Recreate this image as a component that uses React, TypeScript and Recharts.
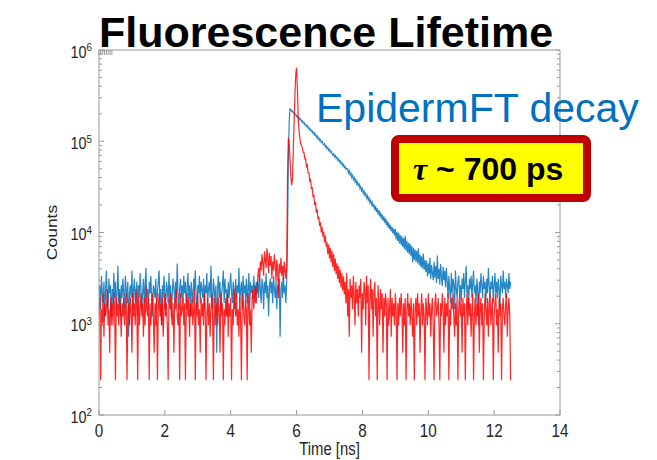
import React from 'react';
import { LineChart, Line, XAxis, YAxis } from 'recharts';

// sampling step of the decay histogram
const TIME_STEP_NS = 0.025;

// blue trace (EpidermFT), counts per bin
const BLUE_BASELINE = [ // 0.000 - 4.775 ns
  1920, 2640, 1440, 3360, 2160, 1680, 2880, 1200, 2400, 3840, 1920, 1440, 3120, 2160, 2640, 960,
  2400, 1680, 3600, 1920, 2880, 1440, 2160, 4320, 1680, 2400, 1200, 2640, 1920, 3120, 2160, 1440,
  3360, 2400, 1680, 2880, 720, 2160, 2640, 1920, 3840, 1440, 2400, 3120, 1680, 2160, 2880, 1200,
  2640, 1920, 3600, 2400, 1440, 2160, 3120, 1680, 2640, 4080, 1920, 2400, 1440, 2880, 2160, 3360,
  1680, 1200, 2640, 2400, 1920, 3120, 1440, 2160, 2880, 3840, 1680, 2400, 960, 2640, 1920, 3360,
  2160, 1440, 2880, 2400, 1680, 3600, 1920, 2640, 1200, 2160, 3120, 2400, 1680, 2880, 1920, 4560,
  2160, 1440, 2400, 3120, 1920, 2640, 1680, 3360, 2160, 2880, 1440, 2400, 3600, 1920, 2640, 1200,
  2880, 2160, 1680, 3120, 2400, 3840, 1920, 1440, 2640, 2160, 3360, 1680, 2880, 2400, 1920, 3120,
  1440, 2640, 2160, 3600, 1680, 2400, 2880, 1920, 4320, 2160, 1440, 3120, 2400, 1680, 2640, 480,
  2400, 3360, 1920, 2880, 1440, 2160, 2640, 3840, 1680, 3120, 2160, 2400, 1200, 2880, 1920, 2640,
  3600, 2160, 1680, 2880, 2400, 1440, 3120, 1920, 2640, 2160, 4080, 1680, 2400, 2880, 1440, 3360,
  2160, 2640, 1920, 3120, 1680, 2400, 3600, 1440, 2880, 2160, 2640, 1920, 3360, 2400, 1680, 2880,
];
const BLUE_BUMP = [ // 4.800 - 5.700 ns
  2160, 2880, 1920, 3360, 2400, 1680, 3120, 2640, 1440, 2880,
  2160, 3600, 1920, 2640, 1200, 2400, 3120, 2160, 2880, 1680,
  3360, 2400, 1920, 2880, 1440, 2640, 2160, 3120, 720, 2400,
  2880, 1920, 3360, 2160, 2640, 1680, 2880,
];
const BLUE_DECAY = [ // 5.725 - 10.550 ns
  9000, 60000, 165000, 226000,
  223000, 213000, 215000, 204000, 206000, 195000, 198000, 187000, 190000, 179000,
  182000, 172000, 175000, 165000, 168000, 158000, 161000, 152000, 154000, 145000,
  148000, 139000, 142000, 133000, 136000, 128000, 130000, 122000,
  125500, 116500, 119500, 111000, 114500, 106000, 109500, 101500, 104500, 97000,
  99800, 94500, 91600, 93800, 86500, 89000, 83000, 85200, 79000, 81700,
  76000, 78000, 73600, 70500, 72900, 67500, 69800, 65000, 66800, 62000,
  63900, 59500, 61200, 56500, 58200, 54000, 55600, 51700, 53200, 49300,
  50500,
  50200, 45300, 47600, 42600, 44800, 40100, 42300, 38000, 39800, 36000,
  37900, 34000, 35700, 32100, 34500, 30300, 31900, 28700, 30100, 27000,
  28400, 25600, 26900, 24000, 25300, 22700, 24000, 21400, 22600, 20200,
  21300, 19000,
  20400, 17600, 19500, 16800, 18400, 15800, 17600, 15000, 16600, 14200,
  15800, 13500, 15000, 12800, 14300, 12100, 13500, 11400, 12800, 10900,
  12100, 10300, 11500, 9800, 11000, 9300,
  10900, 8400, 10200, 8100, 9900, 7600, 9400, 7300, 9100, 6900,
  8700, 6600, 9200, 6300, 8100, 6000, 7700, 5800, 7500, 5500,
  7100, 4700, 6800, 5000, 6500, 4800, 6300, 4600, 6700, 4400,
  5700, 4200, 5500, 4000, 5900, 3900, 5000, 3700,
  4900, 3300, 4600, 3500, 5300, 3100, 4400, 3600, 3000, 4800,
  3200, 4300, 2800, 5600, 3100, 4000, 2700, 4500, 3300, 2600,
  4200, 3000, 3800, 2500, 4100,
];
const BLUE_TAIL = [ // 10.575 - 12.500 ns
  2880, 1920, 3360, 2400, 1680, 3600, 2160, 3120, 2640, 1440, 3840, 2400, 1920, 2880, 3360, 2160,
  2640, 1680, 3120, 2400, 3600, 1920, 2880, 4320, 2160, 2640, 1440, 3120, 2400, 3360, 1920, 2880,
  3840, 2160, 2640, 1680, 3120, 2400, 960, 2880, 2160, 3600, 2640, 1920, 3360, 2400, 2880, 1680,
  3120, 2160, 4080, 2640, 1920, 2880, 2400, 3360, 1680, 2640, 3600, 2160, 2880, 1920, 3120, 2400,
  1440, 3360, 2640, 2160, 3840, 2400, 2880, 1920, 3120, 2640, 2160, 3600, 2400, 2880,
];

// red trace (reference / IRF), counts per bin
const RED_BASELINE = [ // 0.000 - 4.775 ns
  1200, 1920, 240, 1440, 960, 2160, 720, 1680, 1200, 1440, 2400, 960, 1440, 480, 1920, 1200,
  1680, 960, 2160, 1440, 240, 1920, 1200, 1680, 960, 2160, 1440, 720, 1680, 1200, 1920, 960,
  1440, 2160, 240, 1200, 1680, 960, 1920, 1440, 480, 2160, 1200, 1680, 960, 2400, 1440, 240,
  1920, 960, 1440, 2160, 1200, 1680, 720, 1920, 960, 2640, 1440, 1200, 1920, 240, 1680, 960,
  1440, 2160, 1200, 480, 1680, 960, 1920, 240, 1440, 2160, 1200, 1680, 960, 1920, 720, 1440,
  2160, 1200, 1680, 960, 240, 1920, 1440, 2160, 1200, 960, 1680, 480, 1920, 1440, 2400, 1200,
  960, 1680, 240, 2160, 1200, 1440, 1920, 960, 1680, 240, 1440, 2160, 1200, 1920, 720, 1680,
  1200, 1920, 960, 1440, 2400, 240, 1680, 1200, 2160, 960, 1440, 480, 1920, 1200, 1680, 960,
  2160, 1440, 240, 1200, 1920, 960, 1680, 720, 1440, 2160, 1200, 240, 1920, 960, 1680, 1440,
  960, 1920, 1440, 480, 2160, 1200, 1680, 240, 1440, 960, 1920, 1200, 2160, 720, 1680, 1200,
  1920, 240, 1440, 960, 2400, 1680, 1200, 2160, 960, 1440, 720, 1920, 1200, 240, 1680, 2160,
  1200, 960, 1920, 1440, 240, 2160, 1680, 960, 1440, 480, 1920, 2400, 1440, 2160, 2640, 1680,
];
const RED_BUMP = [ // 4.800 - 5.700 ns
  2400, 3360, 4080, 2880, 4800, 3840, 5760, 4560, 3360, 6240,
  5040, 4080, 6720, 5280, 3600, 6000, 4320, 5520, 3120, 4800,
  3840, 5760, 4560, 2880, 5040, 4080, 1920, 4560, 3600, 5280,
  3360, 4320, 2880, 4800, 3840, 3120, 4320,
];
const RED_DECAY = [ // 5.725 - 7.450 ns
  40000, 110000, 95000, 65000, 42000, 33000, 38000, 80000, 160000, 320000,
  540000, 640000, 380000, 180000, 130000, 108000, 95000, 90000,
  84000, 76000, 75000, 64000, 64000, 53000, 55000, 45000, 45000, 37000,
  38000, 30000, 31500, 24500, 26000, 20000, 21500, 16500, 18000, 14000,
  15000, 11800, 13000, 10000, 11500, 9000, 10200, 7800, 9200, 7000,
  7800, 5800, 7400, 5200, 6800, 4700, 6300, 4200, 5800, 3800,
  5200, 3500, 4600, 3100, 4300, 2800, 3900, 2500, 3600, 2300,
  3300, 2100,
];
const RED_TAIL = [ // 7.475 - 12.500 ns
  2880, 1680, 3600, 1200, 2400, 720, 3120, 1920, 2640, 1440, 3360, 2160, 960, 2880, 1680, 2400,
  1200, 2640, 1920, 3120, 480, 2160, 1440, 2880, 2400, 960, 3360, 1680, 2640, 240, 1920, 3120,
  1440, 2400, 720, 2160, 2880, 1200, 1920, 240, 2640, 1680, 960, 2400, 1440, 2160, 480, 1920,
  1200, 2160, 1680, 240, 1920, 960, 1440, 2400, 720, 1920, 1200, 1680, 960, 2160, 1440, 240,
  1680, 960, 1920, 1200, 2160, 1440, 480, 1680, 960, 1920, 240, 1440, 2160, 1200, 1680, 960,
  1920, 1200, 720, 1680, 240, 1440, 1920, 960, 2160, 1200, 1680, 480, 1440, 2160, 960, 1680,
  1200, 240, 1920, 1440, 960, 2160, 1200, 1680, 720, 1440, 1920, 960, 240, 1680, 2160, 1200,
  1440, 1920, 960, 240, 1680, 1200, 2160, 1440, 480, 1920, 960, 1680, 1200, 2160, 240, 1440,
  960, 1920, 1440, 2160, 1200, 720, 1680, 960, 1920, 240, 1440, 2160, 1200, 1680, 480, 1920,
  1200, 1680, 240, 1440, 2160, 960, 1920, 1200, 1680, 720, 1440, 2160, 240, 1200, 1920, 960,
  1680, 1200, 2160, 480, 1440, 1920, 960, 1680, 240, 1200, 2160, 1440, 960, 1920, 720, 1680,
  2160, 960, 1440, 1920, 240, 1200, 1680, 2160, 960, 1440, 480, 1920, 1200, 1680, 240, 1440,
  1920, 1200, 960, 1680, 2160, 720, 1440, 1920, 1200, 240,
];

const X_TICKS = [0, 2, 4, 6, 8, 10, 12, 14];
const Y_DECADES = [1e2, 1e3, 1e4, 1e5, 1e6];
const Y_MINOR = [2, 3, 4, 5, 6, 7, 8, 9];

const blueCounts = [...BLUE_BASELINE, ...BLUE_BUMP, ...BLUE_DECAY, ...BLUE_TAIL];
const redCounts = [...RED_BASELINE, ...RED_BUMP, ...RED_DECAY, ...RED_TAIL];

const data = blueCounts.map((blue, i) => ({
  t: +(i * TIME_STEP_NS).toFixed(3),
  blue,
  red: redCounts[i],
}));

const yTicks = Y_DECADES.flatMap((d, i) =>
  i < Y_DECADES.length - 1 ? [d, ...Y_MINOR.map((m) => m * d)] : [d]
);

const AXIS = '#9a9a9a';
const INK = '#262626';
const FONT = '"Liberation Sans", Arial, Helvetica, sans-serif';
const GAP = 8; // tickMargin, used to find the axis line back from the tick position
const SQUEEZE = 0.85;

const isDecade = (v: number) => Y_DECADES.includes(v);

const LeftTick = ({ x, y, payload }: any) => {
  const ax = x + GAP;
  const major = isDecade(payload.value);
  return (
    <g>
      <line x1={ax} x2={ax + (major ? 5 : 3)} y1={y} y2={y} stroke={AXIS} />
      {major && (
        <g transform={`translate(${ax - 7},${y}) scale(${SQUEEZE},1)`}>
          <text x={0} y={0} textAnchor="end" fill={INK} fontFamily={FONT} fontSize={17}>
            <tspan dy={7.6}>10</tspan>
            <tspan dy={-6.3} fontSize={11.5}>{Math.round(Math.log10(payload.value))}</tspan>
          </text>
        </g>
      )}
    </g>
  );
};

const RightTick = ({ x, y, payload }: any) => {
  const ax = x - GAP;
  const major = isDecade(payload.value);
  return <line x1={ax} x2={ax - (major ? 5 : 3)} y1={y} y2={y} stroke={AXIS} />;
};

const BottomTick = ({ x, y, payload }: any) => {
  const ay = y - GAP;
  return (
    <g>
      <line x1={x} x2={x} y1={ay} y2={ay - 5} stroke={AXIS} />
      <g transform={`translate(${x},${ay + 22}) scale(${SQUEEZE},1)`}>
        <text x={0} y={0} textAnchor="middle" fill={INK} fontFamily={FONT} fontSize={18}>
          {payload.value}
        </text>
      </g>
    </g>
  );
};

const TopTick = ({ x, y }: any) => {
  const ay = y + GAP;
  return <line x1={x} x2={x} y1={ay} y2={ay + 5} stroke={AXIS} />;
};

const XTitle = ({ viewBox }: any) => (
  <g transform={`translate(${viewBox.x + viewBox.width / 2},${viewBox.y + 40}) scale(${SQUEEZE},1)`}>
    <text x={0} y={0} textAnchor="middle" fill={INK} fontFamily={FONT} fontSize={17.5}>
      Time [ns]
    </text>
  </g>
);

const YTitle = ({ viewBox }: any) => (
  <g transform={`translate(${viewBox.x + 18},${viewBox.y + viewBox.height / 2}) rotate(-90) scale(1,${SQUEEZE})`}>
    <text x={0} y={0} textAnchor="middle" fill={INK} fontFamily={FONT} fontSize={17.5}>
      Counts
    </text>
  </g>
);

export default function App() {
  return (
    <div style={{ position: 'absolute', left: 0, top: 0, width: 657, height: 460, background: '#fff' }}>
      <LineChart
        width={657}
        height={460}
        data={data}
        margin={{ top: 45, right: 87, bottom: 15, left: 39 }}
      >
        <XAxis
          xAxisId="bottom"
          type="number"
          dataKey="t"
          domain={[0, 14]}
          ticks={X_TICKS}
          interval={0}
          allowDataOverflow
          height={30}
          tickSize={0}
          tickMargin={GAP}
          tickLine={false}
          axisLine={{ stroke: AXIS }}
          tick={(p: any) => <BottomTick {...p} />}
          label={<XTitle />}
        />
        <XAxis
          xAxisId="top"
          orientation="top"
          type="number"
          domain={[0, 14]}
          ticks={X_TICKS}
          interval={0}
          allowDataOverflow
          height={5}
          tickSize={0}
          tickMargin={GAP}
          tickLine={false}
          axisLine={{ stroke: AXIS }}
          tick={(p: any) => <TopTick {...p} />}
        />
        <YAxis
          yAxisId="left"
          scale="log"
          type="number"
          domain={[100, 1e6]}
          ticks={yTicks}
          interval={0}
          allowDataOverflow
          width={60}
          tickSize={0}
          tickMargin={GAP}
          tickLine={false}
          axisLine={{ stroke: AXIS }}
          tick={(p: any) => <LeftTick {...p} />}
          label={<YTitle />}
        />
        <YAxis
          yAxisId="right"
          orientation="right"
          scale="log"
          type="number"
          domain={[100, 1e6]}
          ticks={yTicks}
          interval={0}
          allowDataOverflow
          width={10}
          tickSize={0}
          tickMargin={GAP}
          tickLine={false}
          axisLine={{ stroke: AXIS }}
          tick={(p: any) => <RightTick {...p} />}
        />
        <Line
          xAxisId="bottom"
          yAxisId="left"
          type="linear"
          dataKey="blue"
          stroke="#0072BD"
          strokeWidth={1.2}
          strokeOpacity={0.85}
          dot={false}
          isAnimationActive={false}
        />
        <Line
          xAxisId="bottom"
          yAxisId="left"
          type="linear"
          dataKey="red"
          stroke="#FF0000"
          strokeWidth={1.2}
          strokeOpacity={0.85}
          dot={false}
          isAnimationActive={false}
        />
      </LineChart>
      <svg
        width={657}
        height={460}
        style={{ position: 'absolute', left: 0, top: 0, pointerEvents: 'none' }}
      >
        <text x={99} y={46.5} fontFamily={FONT} fontWeight="bold" fontSize={43} fill="#000">
          Fluorescence Lifetime
        </text>
        <text x={316} y={121.5} fontFamily={FONT} fontSize={41} fill="#0070C0">
          EpidermFT decay
        </text>
        <rect x={395} y={139} width={192} height={59} rx={4} fill="#FFFF00" stroke="#C00000" strokeWidth={8} />
        <text x={413} y={180} fontFamily={FONT} fontWeight="bold" fontSize={32} fill="#000">
          <tspan fontFamily='"Liberation Serif", "Times New Roman", serif' fontStyle="italic">τ</tspan>
          <tspan> ~ 700 ps</tspan>
        </text>
      </svg>
    </div>
  );
}
